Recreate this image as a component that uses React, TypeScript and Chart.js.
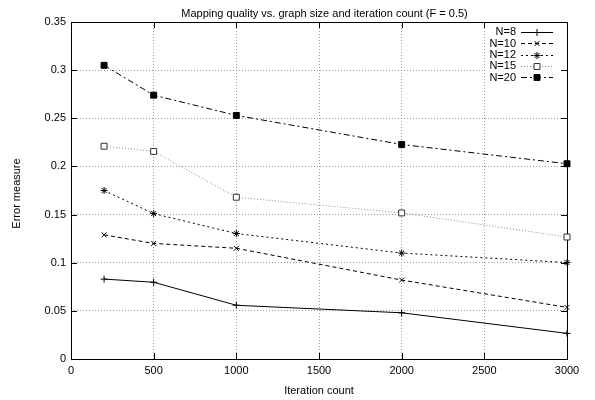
import React, { useEffect, useRef } from 'react';
import { Chart, registerables, PointElement } from 'chart.js';

Chart.register(...registerables);

const iterations = [200, 500, 1000, 2000, 3000];
const n8 = [0.083, 0.0797, 0.0558, 0.048, 0.0266];
const n10 = [0.129, 0.12, 0.115, 0.082, 0.0536];
const n12 = [0.175, 0.151, 0.1303, 0.11, 0.1002];
const n15 = [0.221, 0.2156, 0.168, 0.1517, 0.1267];
const n20 = [0.305, 0.274, 0.253, 0.2228, 0.2028];
const seriesLabels = ['N=8', 'N=10', 'N=12', 'N=15', 'N=20'];
const seriesValues = [n8, n10, n12, n15, n20];

const xTickValues = [0, 500, 1000, 1500, 2000, 2500, 3000];
const yTickValues = [0, 0.05, 0.1, 0.15, 0.2, 0.25, 0.3, 0.35];
const yTickLabels = ['0', '0.05', '0.1', '0.15', '0.2', '0.25', '0.3', '0.35'];

const titleText = 'Mapping quality vs. graph size and iteration count (F = 0.5)';
const xTitle = 'Iteration count';
const yTitle = 'Error measure';

const FONT = '"Liberation Sans", Arial, Helvetica, sans-serif';
const FS = 11;

const styles = [
  { color: '#000', dash: [] as number[], pointStyle: 'cross', radius: 3.5, fill: '#000', pBorder: '#000' },
  { color: '#000', dash: [4, 3], pointStyle: 'crossRot', radius: 3.5, fill: '#000', pBorder: '#000' },
  { color: '#000', dash: [2, 3], pointStyle: 'star', radius: 3.5, fill: '#000', pBorder: '#000' },
  { color: '#8c8c8c', dash: [1, 2], pointStyle: 'rect', radius: 4.2, fill: '#fff', pBorder: '#333' },
  { color: '#000', dash: [6, 3, 2, 3], pointStyle: 'rect', radius: 4.2, fill: '#000', pBorder: '#000' },
];

const decorPlugin = {
  id: 'decor',
  beforeDatasetsDraw(chart: any) {
    const { ctx, chartArea } = chart;
    const { left, right, top, bottom } = chartArea;
    ctx.save();
    ctx.fillStyle = '#fff';
    ctx.fillRect(485.5, top + 1, right - 486.5, 62);
    ctx.strokeStyle = '#000';
    ctx.lineWidth = 1;
    ctx.setLineDash([]);
    ctx.strokeRect(Math.round(left) + 0.5, Math.round(top) + 0.5, Math.round(right - left), Math.round(bottom - top));
    const xs = chart.scales.x;
    const ys = chart.scales.y;
    ctx.beginPath();
    xTickValues.forEach((v) => {
      const px = Math.round(xs.getPixelForValue(v)) + 0.5;
      ctx.moveTo(px, bottom);
      ctx.lineTo(px, bottom - 6);
      ctx.moveTo(px, top);
      ctx.lineTo(px, top + 6);
    });
    yTickValues.forEach((v) => {
      const py = Math.round(ys.getPixelForValue(v)) + 0.5;
      ctx.moveTo(left, py);
      ctx.lineTo(left + 6, py);
      ctx.moveTo(right, py);
      ctx.lineTo(right - 6, py);
    });
    ctx.stroke();
    ctx.restore();
  },
  afterDraw(chart: any) {
    const { ctx } = chart;
    ctx.save();
    ctx.fillStyle = '#000';
    ctx.font = `${FS}px ${FONT}`;
    ctx.textAlign = 'center';
    ctx.textBaseline = 'alphabetic';
    ctx.fillText(titleText, 324.5, 16.5);
    ctx.save();
    ctx.translate(17, 193.5);
    ctx.rotate(-Math.PI / 2);
    ctx.textBaseline = 'middle';
    ctx.fillText(yTitle, 0, 0);
    ctx.restore();
    const area = { left: 0, top: 0, right: 595, bottom: 400 };
    seriesLabels.forEach((lab, i) => {
      const y = 31.7 + i * 11.4;
      const st = styles[i];
      ctx.textAlign = 'right';
      ctx.textBaseline = 'middle';
      ctx.fillStyle = '#000';
      ctx.fillText(lab, 516, y + 0.5);
      ctx.strokeStyle = st.color;
      ctx.lineWidth = 1;
      ctx.setLineDash(st.dash);
      ctx.beginPath();
      ctx.moveTo(521, Math.round(y) + 0.5);
      ctx.lineTo(553, Math.round(y) + 0.5);
      ctx.stroke();
      ctx.setLineDash([]);
      const pe: any = new (PointElement as any)({
        x: 537,
        y: Math.round(y) + 0.5,
        options: {
          pointStyle: st.pointStyle,
          radius: st.radius,
          rotation: 0,
          borderWidth: 1,
          borderColor: st.pBorder,
          backgroundColor: st.fill,
        },
      });
      pe.draw(ctx, area);
    });
    ctx.restore();
  },
};

export default function App() {
  const ref = useRef<HTMLCanvasElement | null>(null);
  useEffect(() => {
    document.body.style.margin = '0';
    const canvas = ref.current;
    if (!canvas) return;
    const datasets = seriesLabels.map((lab, i) => {
      const st = styles[i];
      return {
        label: lab,
        data: iterations.map((x, j) => ({ x, y: seriesValues[i][j] })),
        borderColor: st.color,
        borderWidth: 1,
        borderDash: st.dash,
        pointStyle: st.pointStyle,
        pointRadius: st.radius,
        pointBorderWidth: 1,
        pointBorderColor: st.pBorder,
        pointBackgroundColor: st.fill,
        fill: false,
        tension: 0,
        clip: false,
      };
    });
    const chart = new Chart(canvas, {
      type: 'line',
      data: { datasets: datasets as any },
      options: {
        animation: false,
        responsive: false,
        devicePixelRatio: 1,
        layout: { padding: { top: 22, right: 28, left: 0, bottom: 0 } },
        plugins: { legend: { display: false }, title: { display: false }, tooltip: { enabled: false } },
        scales: {
          x: {
            type: 'linear',
            min: 0,
            max: 3000,
            afterFit: (s: any) => { s.height = 41; },
            afterBuildTicks: (s: any) => { s.ticks = xTickValues.map((v) => ({ value: v })); },
            ticks: {
              color: '#000',
              font: { family: FONT, size: FS },
              padding: 5,
              maxRotation: 0,
              autoSkip: false,
              callback: (v: any) => String(v),
            },
            grid: { color: '#9a9a9a', lineWidth: 1, drawTicks: false },
            border: { display: false, dash: [1, 2] },
            title: {
              display: true,
              text: xTitle,
              color: '#000',
              font: { family: FONT, size: FS },
              padding: { top: 0, bottom: 2.5 },
            },
          },
          y: {
            type: 'linear',
            min: 0,
            max: 0.35,
            afterFit: (s: any) => { s.width = 71; },
            afterBuildTicks: (s: any) => { s.ticks = yTickValues.map((v) => ({ value: v })); },
            ticks: {
              color: '#000',
              font: { family: FONT, size: FS },
              padding: 5,
              autoSkip: false,
              callback: (v: any) => {
                const idx = yTickValues.findIndex((t) => Math.abs(t - v) < 1e-9);
                return idx >= 0 ? yTickLabels[idx] : '';
              },
            },
            grid: { color: '#9a9a9a', lineWidth: 1, drawTicks: false },
            border: { display: false, dash: [1, 2] },
          },
        },
      },
      plugins: [decorPlugin],
    });
    return () => chart.destroy();
  }, []);
  return <canvas ref={ref} width={595} height={400} style={{ display: 'block' }} />;
}
